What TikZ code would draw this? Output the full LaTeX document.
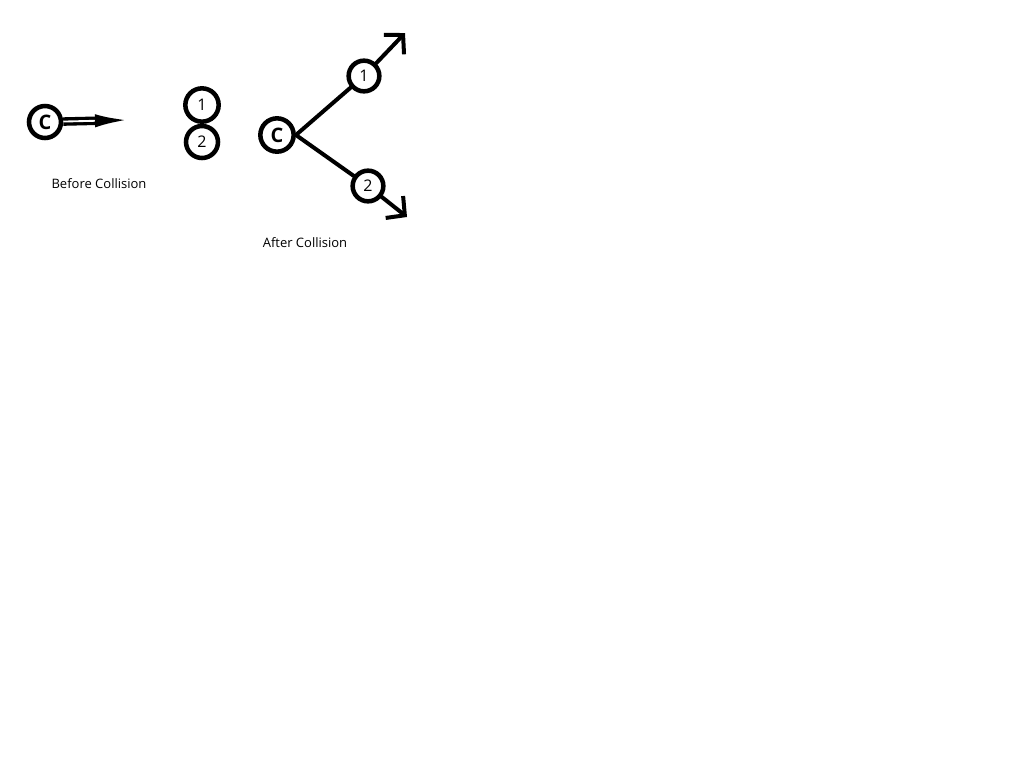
\documentclass[tikz,border=0pt]{standalone}
\usepackage{fontspec}
\setmainfont{Open Sans}
\usetikzlibrary{arrows.meta}
\begin{document}
\begin{tikzpicture}[x=0.75pt,y=-0.75pt,
  ball/.style={circle,draw,line width=3.4pt,minimum size=24pt,inner sep=0pt,font=\fontsize{12}{14}\selectfont},
  cball/.style={ball,font=\fontsize{15}{16}\selectfont\bfseries},
  stroke/.style={line width=3pt,line cap=round,line join=round},
  barb/.style={stroke,-{Straight Barb[length=10pt,width=21pt,line width=3pt]}},
  caption/.style={font=\fontsize{9.75}{12}\selectfont,inner sep=0pt}]
\useasboundingbox[fill=white] (0,0) rectangle (1024,768);
% before collision
\node[cball] (cL) at (45,122) {C};
\node[ball,minimum size=25pt] (b1) at (202,105) {1};
\node[ball] (b2) at (202,142) {2};
\coordinate (t0) at (127,120);
\draw[line width=2.5pt,double=white,double distance=1.4pt,-{Latex[length=24pt,width=10pt]}] (cL) -- (t0);
\node[caption] (before) at (99,184) {Before Collision};
% after collision
\node[cball,minimum size=25pt] (cR) at (277,135) {C};
\node[ball,minimum size=23pt] (a1) at (364,76) {1};
\node[ball,minimum size=23pt] (a2) at (368,186) {2};
\coordinate (t1) at (405,33);
\coordinate (t2) at (407,217);
\draw[stroke] (cR.east) -- (a1);
\draw[stroke] (cR.east) -- (a2);
\draw[barb] (a1) -- (t1);
\draw[barb] (a2) -- (t2);
\node[caption] (after) at (305,243) {After Collision};
\end{tikzpicture}
\end{document}
